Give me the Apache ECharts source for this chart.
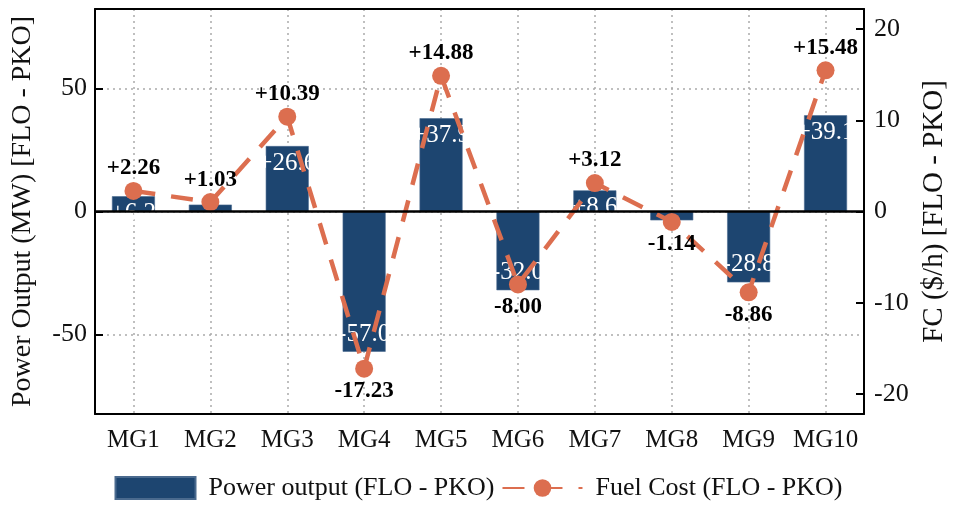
<!DOCTYPE html>
<html>
<head>
<meta charset="utf-8">
<script src="https://cdn.jsdelivr.net/npm/echarts@6/dist/echarts.min.js"></script>
<style>
  html, body { margin: 0; padding: 0; background: #fff; }
  #chart { width: 957px; height: 510px; }
</style>
</head>
<body>
<div id="chart"></div>
<script>
/* data */
const categories = ["MG1", "MG2", "MG3", "MG4", "MG5", "MG6", "MG7", "MG8", "MG9", "MG10"];
const powerOutput = [6.2, 2.8, 26.6, -57.0, 37.9, -32.0, 8.6, -3.6, -28.8, 39.1];
const fuelCost = [2.26, 1.03, 10.39, -17.23, 14.88, -8.00, 3.12, -1.14, -8.86, 15.48];
const leftTicks = [-50, 0, 50];
const rightTicks = [-20, -10, 0, 10, 20];

const font = "Liberation Serif";
const barColor = "#1d4570";
const lineColor = "#dc6e4f";

function signed(v, digits) {
  return (v > 0 ? "+" : "") + v.toFixed(digits);
}

var dom = document.getElementById("chart");
var myChart = echarts.init(dom, null, { renderer: "canvas" });

var barData = powerOutput.map(function (v) {
  return {
    value: v,
    label: { position: v >= 0 ? "insideTop" : "insideBottom" },
  };
});

var lineData = fuelCost.map(function (v) {
  return {
    value: v,
    label: { position: v >= 0 ? "top" : "bottom" },
  };
});

var gridLine = { color: "#aaa", type: [2, 4], width: 1.5 };
var blackTick = { color: "#000", width: 2 };

var option = {
  animation: false,
  textStyle: { fontFamily: font },
  grid: { left: 95, right: 87, top: 9, bottom: 96 },
  legend: {
    bottom: 4,
    left: "center",
    itemWidth: 80,
    itemHeight: 22,
    itemGap: 7,
    textStyle: { fontFamily: font, fontSize: 26, color: "#111", padding: [0, 0, 0, 8] },
    data: [
      { name: "Power output (FLO - PKO)", icon: "rect" },
      { name: "Fuel Cost (FLO - PKO)" },
    ],
  },
  xAxis: [
    {
      type: "category",
      data: categories,
      position: "bottom",
      axisLine: { onZero: false, lineStyle: { color: "#000", width: 2 } },
      axisTick: { inside: true, alignWithLabel: true, interval: 0, length: 7, lineStyle: blackTick },
      axisLabel: { interval: 0, color: "#111", fontFamily: font, fontSize: 25, margin: 14 },
      splitLine: { show: true, interval: 0, alignWithLabel: true, lineStyle: gridLine },
    },
    {
      type: "category",
      data: categories,
      position: "top",
      axisLine: { onZero: false, lineStyle: { color: "#000", width: 2 } },
      axisTick: { inside: true, alignWithLabel: true, interval: 0, length: 7, lineStyle: blackTick },
      axisLabel: { show: false },
      splitLine: { show: false },
    },
  ],
  yAxis: [
    {
      type: "value",
      min: -82.3,
      max: 82.3,
      name: "Power Output (MW) [FLO - PKO]",
      nameLocation: "middle",
      nameGap: 58,
      nameTextStyle: { fontFamily: font, fontSize: 28, color: "#111" },
      axisLine: { show: true, onZero: false, lineStyle: { color: "#000", width: 2 } },
      axisTick: { show: true, inside: true, length: 8, customValues: leftTicks, lineStyle: blackTick },
      axisLabel: { customValues: leftTicks, color: "#111", fontFamily: font, fontSize: 26, margin: 8 },
      splitLine: { show: true, lineStyle: gridLine },
    },
    {
      type: "value",
      min: -22.2,
      max: 22.2,
      position: "right",
      name: "FC ($/h) [FLO - PKO]",
      nameLocation: "middle",
      nameGap: 56,
      nameTextStyle: { fontFamily: font, fontSize: 29, color: "#111" },
      axisLine: { show: true, onZero: false, lineStyle: { color: "#000", width: 2 } },
      axisTick: { show: true, inside: true, length: 8, customValues: rightTicks, lineStyle: blackTick },
      axisLabel: { customValues: rightTicks, color: "#111", fontFamily: font, fontSize: 26, margin: 10 },
      splitLine: { show: false },
    },
  ],
  series: [
    {
      name: "Power output (FLO - PKO)",
      type: "bar",
      xAxisIndex: 0,
      yAxisIndex: 0,
      data: barData,
      barWidth: 43,
      z: 2,
      itemStyle: { color: barColor, borderColor: "#4a6a8e", borderWidth: 0.6 },
      label: {
        show: true,
        color: "#fff",
        fontFamily: font,
        fontSize: 25,
        distance: 5,
        formatter: function (p) { return signed(p.value, 1); },
      },
      markLine: {
        silent: true,
        symbol: "none",
        label: { show: false },
        lineStyle: { color: "#000", width: 2.5, type: "solid" },
        data: [{ yAxis: 0 }],
      },
    },
    {
      name: "Fuel Cost (FLO - PKO)",
      type: "line",
      xAxisIndex: 0,
      yAxisIndex: 1,
      data: lineData,
      z: 3,
      symbol: "circle",
      symbolSize: 18,
      color: lineColor,
      lineStyle: { color: lineColor, width: 4.5, type: [22, 16] },
      itemStyle: { color: lineColor },
      label: {
        show: true,
        color: "#000",
        fontFamily: font,
        fontWeight: "bold",
        fontSize: 23,
        distance: 2,
        formatter: function (p) { return signed(p.value, 2); },
      },
    },
  ],
};

myChart.setOption(option);
window.addEventListener("resize", myChart.resize);
</script>
</body>
</html>
